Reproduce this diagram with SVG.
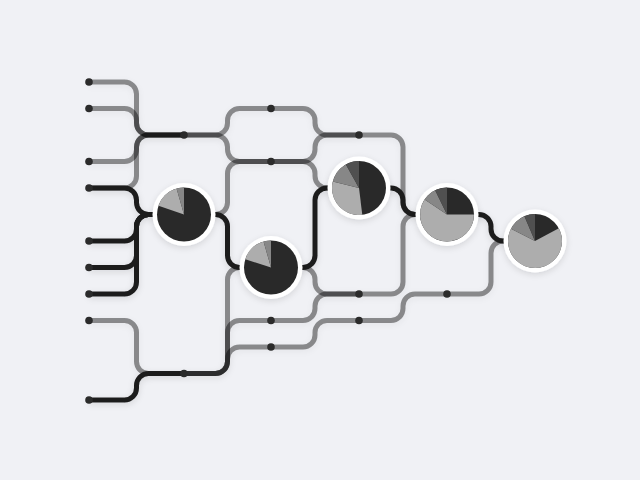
<svg xmlns="http://www.w3.org/2000/svg" width="640" height="480" viewBox="0 0 640 480">
<defs>
<filter id="sh" x="-20%" y="-20%" width="140%" height="140%">
<feDropShadow dx="0" dy="2" stdDeviation="3" flood-color="#000" flood-opacity="0.12"/>
</filter>
<style>
.g{fill:none;stroke:#000;stroke-opacity:.42;stroke-width:5}
.b{fill:none;stroke:#1e1e1e;stroke-width:5}
.dot{fill:#2b2b2b}
.ring{fill:#fff}
.pk{fill:#292929}.pl{fill:#adadad}.pm{fill:#878787}.pd{fill:#505050}
</style>
</defs>
<rect width="640" height="480" fill="#f0f1f5"/>
<g id="connectors" filter="url(#sh)">
<path class="g" d="M89,82 H124.5 A12,12 0 0 1 136.5,94 V123 A12,12 0 0 0 148.5,135 H184"/>
<path class="g" d="M89,108.5 H124.5 A12,12 0 0 1 136.5,120.5 V123 A12,12 0 0 0 148.5,135 H184"/>
<path class="g" d="M89,161.5 H124.5 A12,12 0 0 0 136.5,149.5 V147 A12,12 0 0 1 148.5,135 H184"/>
<path class="g" d="M89,188 H124.5 A12,12 0 0 0 136.5,176 V147 A12,12 0 0 1 148.5,135 H184"/>
<path class="g" d="M89,320.5 H124.5 A12,12 0 0 1 136.5,332.5 V361.5 A12,12 0 0 0 148.5,373.5 H184"/>
<path class="g" d="M184,135 H215.5 A12,12 0 0 0 227.5,123 V120.5 A12,12 0 0 1 239.5,108.5 H271"/>
<path class="g" d="M184,135 H215.5 A12,12 0 0 1 227.5,147 V149.5 A12,12 0 0 0 239.5,161.5 H271"/>
<path class="g" d="M184,214.5 H215.5 A12,12 0 0 0 227.5,202.5 V173.5 A12,12 0 0 1 239.5,161.5 H271"/>
<path class="g" d="M184,373.5 H215.5 A12,12 0 0 0 227.5,361.5 V279.5 A12,12 0 0 1 239.5,267.5 H271"/>
<path class="g" d="M184,373.5 H215.5 A12,12 0 0 0 227.5,361.5 V332.5 A12,12 0 0 1 239.5,320.5 H271"/>
<path class="g" d="M184,373.5 H215.5 A12,12 0 0 0 227.5,361.5 V359 A12,12 0 0 1 239.5,347 H271"/>
<path class="g" d="M271,108.5 H303 A12,12 0 0 1 315,120.5 V123 A12,12 0 0 0 327,135 H359"/>
<path class="g" d="M271,161.5 H303 A12,12 0 0 0 315,149.5 V147 A12,12 0 0 1 327,135 H359"/>
<path class="g" d="M271,161.5 H303 A12,12 0 0 1 315,173.5 V176 A12,12 0 0 0 327,188 H359"/>
<path class="g" d="M271,267.5 H303 A12,12 0 0 1 315,279.5 V282 A12,12 0 0 0 327,294 H359"/>
<path class="g" d="M271,320.5 H303 A12,12 0 0 0 315,308.5 V306 A12,12 0 0 1 327,294 H359"/>
<path class="g" d="M271,347 H303 A12,12 0 0 0 315,335 V332.5 A12,12 0 0 1 327,320.5 H359"/>
<path class="g" d="M359,135 H391 A12,12 0 0 1 403,147 V202.5 A12,12 0 0 0 415,214.5 H447"/>
<path class="g" d="M359,294 H391 A12,12 0 0 0 403,282 V226.5 A12,12 0 0 1 415,214.5 H447"/>
<path class="g" d="M359,320.5 H391 A12,12 0 0 0 403,308.5 V306 A12,12 0 0 1 415,294 H447"/>
<path class="g" d="M447,294 H479 A12,12 0 0 0 491,282 V253 A12,12 0 0 1 503,241 H535"/>
<path class="b" d="M89,188 H124.5 A12,12 0 0 1 136.5,200 V202.5 A12,12 0 0 0 148.5,214.5 H184"/>
<path class="b" d="M89,241 H124.5 A12,12 0 0 0 136.5,229 V226.5 A12,12 0 0 1 148.5,214.5 H184"/>
<path class="b" d="M89,267.5 H124.5 A12,12 0 0 0 136.5,255.5 V226.5 A12,12 0 0 1 148.5,214.5 H184"/>
<path class="b" d="M89,294 H124.5 A12,12 0 0 0 136.5,282 V226.5 A12,12 0 0 1 148.5,214.5 H184"/>
<path class="b" d="M89,400 H124.5 A12,12 0 0 0 136.5,388 V385.5 A12,12 0 0 1 148.5,373.5 H184"/>
<path class="b" d="M184,214.5 H215.5 A12,12 0 0 1 227.5,226.5 V255.5 A12,12 0 0 0 239.5,267.5 H271"/>
<path class="b" d="M271,267.5 H303 A12,12 0 0 0 315,255.5 V200 A12,12 0 0 1 327,188 H359"/>
<path class="b" d="M359,188 H391 A12,12 0 0 1 403,200 V202.5 A12,12 0 0 0 415,214.5 H447"/>
<path class="b" d="M447,214.5 H479 A12,12 0 0 1 491,226.5 V229 A12,12 0 0 0 503,241 H535"/>
</g>
<g id="dots">
<circle class="dot" cx="89" cy="82" r="3.8"/>
<circle class="dot" cx="89" cy="108.5" r="3.8"/>
<circle class="dot" cx="89" cy="161.5" r="3.8"/>
<circle class="dot" cx="89" cy="188" r="3.8"/>
<circle class="dot" cx="89" cy="241" r="3.8"/>
<circle class="dot" cx="89" cy="267.5" r="3.8"/>
<circle class="dot" cx="89" cy="294" r="3.8"/>
<circle class="dot" cx="89" cy="320.5" r="3.8"/>
<circle class="dot" cx="89" cy="400" r="3.8"/>
<circle class="dot" cx="184" cy="135" r="3.8"/>
<circle class="dot" cx="184" cy="373.5" r="3.8"/>
<circle class="dot" cx="271" cy="108.5" r="3.8"/>
<circle class="dot" cx="271" cy="161.5" r="3.8"/>
<circle class="dot" cx="271" cy="320.5" r="3.8"/>
<circle class="dot" cx="271" cy="347" r="3.8"/>
<circle class="dot" cx="359" cy="135" r="3.8"/>
<circle class="dot" cx="359" cy="294" r="3.8"/>
<circle class="dot" cx="359" cy="320.5" r="3.8"/>
<circle class="dot" cx="447" cy="294" r="3.8"/>
</g>
<g id="node1" transform="translate(184,214.5)">
<circle class="ring" r="31.5" filter="url(#sh)"/>
<circle class="pk" r="27"/>
<path class="pl" d="M0,0 L-25.53,-8.79 A27,27 0 0 1 -7.44,-25.96 Z"/>
<path class="pm" d="M0,0 L-7.44,-25.96 A27,27 0 0 1 0,-27 Z"/>
</g>
<g id="node2" transform="translate(271,267.5)">
<circle class="ring" r="31.5" filter="url(#sh)"/>
<circle class="pk" r="27"/>
<path class="pl" d="M0,0 L-25.68,-8.34 A27,27 0 0 1 -7.44,-25.96 Z"/>
<path class="pm" d="M0,0 L-7.44,-25.96 A27,27 0 0 1 0,-27 Z"/>
</g>
<g id="node3" transform="translate(359,188)">
<circle class="ring" r="31.5" filter="url(#sh)"/>
<circle class="pk" r="27"/>
<path class="pl" d="M0,0 L3.29,26.8 A27,27 0 0 1 -26.2,-6.53 Z"/>
<path class="pm" d="M0,0 L-26.2,-6.53 A27,27 0 0 1 -13.09,-23.61 Z"/>
<path class="pd" d="M0,0 L-13.09,-23.61 A27,27 0 0 1 0,-27 Z"/>
</g>
<g id="node4" transform="translate(447,214.5)">
<circle class="ring" r="31.5" filter="url(#sh)"/>
<circle class="pk" r="27"/>
<path class="pl" d="M0,0 L27,0 A27,27 0 1 1 -22.38,-15.1 Z"/>
<path class="pm" d="M0,0 L-22.38,-15.1 A27,27 0 0 1 -11.84,-24.27 Z"/>
<path class="pd" d="M0,0 L-11.84,-24.27 A27,27 0 0 1 0,-27 Z"/>
</g>
<g id="node5" transform="translate(535,241)">
<circle class="ring" r="31.5" filter="url(#sh)"/>
<circle class="pk" r="27"/>
<path class="pl" d="M0,0 L23.84,-12.68 A27,27 0 1 1 -24.06,-12.26 Z"/>
<path class="pm" d="M0,0 L-24.06,-12.26 A27,27 0 0 1 -10.55,-24.85 Z"/>
<path class="pd" d="M0,0 L-10.55,-24.85 A27,27 0 0 1 0,-27 Z"/>
</g>
</svg>
